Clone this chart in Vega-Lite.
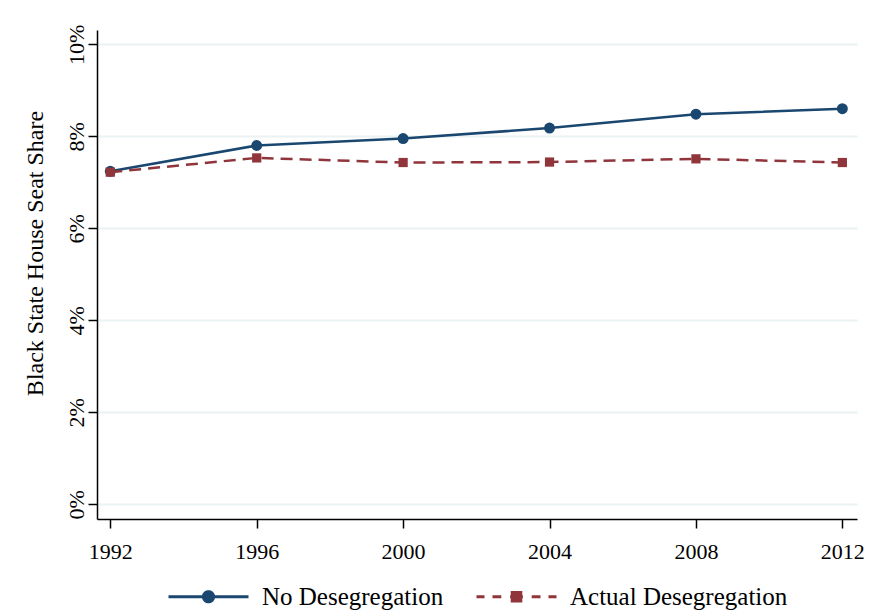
{
  "$schema": "https://vega.github.io/schema/vega-lite/v6.json",
  "width": 760,
  "height": 489,
  "autosize": {"type": "none"},
  "padding": {"left": 97, "top": 30, "right": 19, "bottom": 93},
  "background": "white",
  "config": {
    "view": {"stroke": null},
    "font": "Liberation Serif"
  },
  "data": {
    "values": [
      {"year": 1992, "series": "No Desegregation", "share": 0.0724},
      {"year": 1996, "series": "No Desegregation", "share": 0.0780},
      {"year": 2000, "series": "No Desegregation", "share": 0.0795},
      {"year": 2004, "series": "No Desegregation", "share": 0.0818},
      {"year": 2008, "series": "No Desegregation", "share": 0.0848},
      {"year": 2012, "series": "No Desegregation", "share": 0.0860},
      {"year": 1992, "series": "Actual Desegregation", "share": 0.0722},
      {"year": 1996, "series": "Actual Desegregation", "share": 0.0753},
      {"year": 2000, "series": "Actual Desegregation", "share": 0.0743},
      {"year": 2004, "series": "Actual Desegregation", "share": 0.0744},
      {"year": 2008, "series": "Actual Desegregation", "share": 0.0751},
      {"year": 2012, "series": "Actual Desegregation", "share": 0.0743}
    ]
  },
  "encoding": {
    "x": {
      "field": "year",
      "type": "quantitative",
      "scale": {"domain": [1991.637, 2012.4], "nice": false, "zero": false},
      "axis": {
        "values": [1992, 1996, 2000, 2004, 2008, 2012],
        "format": "d",
        "title": null,
        "grid": false,
        "tickSize": 9,
        "tickWidth": 1.5,
        "tickColor": "black",
        "domainColor": "black",
        "domainWidth": 1.5,
        "labelFont": "Liberation Serif",
        "labelFontSize": 22,
        "labelColor": "black",
        "labelPadding": 13,
        "labelFlush": false
      }
    },
    "y": {
      "field": "share",
      "type": "quantitative",
      "scale": {"domain": [-0.0032, 0.10311], "nice": false, "zero": false},
      "axis": {
        "values": [0, 0.02, 0.04, 0.06, 0.08, 0.1],
        "format": ".0%",
        "grid": true,
        "gridColor": "#eaf2f3",
        "gridWidth": 2,
        "tickSize": 9,
        "tickWidth": 1.5,
        "tickColor": "black",
        "domainColor": "black",
        "domainWidth": 1.5,
        "labelFont": "Liberation Serif",
        "labelFontSize": 22,
        "labelColor": "black",
        "labelAngle": -90,
        "labelAlign": "center",
        "labelBaseline": "middle",
        "labelPadding": 12,
        "labelFlush": false,
        "title": "Black State House Seat Share",
        "titleFont": "Liberation Serif",
        "titleFontSize": 24,
        "titleFontWeight": "normal",
        "titleColor": "black",
        "titleAngle": -90,
        "titleAlign": "center",
        "titleBaseline": "middle",
        "titleX": -62,
        "titleY": 223
      }
    },
    "color": {
      "field": "series",
      "type": "nominal",
      "scale": {
        "domain": ["No Desegregation", "Actual Desegregation"],
        "range": ["#1a476f", "#90353b"]
      },
      "legend": {
        "orient": "none",
        "legendX": 70,
        "legendY": 525,
        "direction": "horizontal",
        "title": null,
        "padding": 0,
        "labelFont": "Liberation Serif",
        "labelFontSize": 25,
        "labelColor": "black",
        "labelLimit": 0,
        "labelOffset": 12,
        "columnPadding": 26,
        "symbolSize": 6400,
        "symbolStrokeWidth": 2.5,
        "encode": {
          "symbols": {
            "update": {
              "shape": {"signal": "datum.value === 'No Desegregation' ? 'M-1,0H1M-0.13,0A0.13,0.13,0,1,1,0.13,0A0.13,0.13,0,1,1,-0.13,0Z' : 'M-1,0H-0.8M-0.6,0H-0.38M-0.16,0H0.16M0.38,0H0.6M0.8,0H1M-0.11,-0.11H0.11V0.11H-0.11Z'"},
              "size": {"value": 6400},
              "fill": {"scale": "color", "field": "value"},
              "stroke": {"scale": "color", "field": "value"},
              "strokeWidth": {"value": 2.8},
              "strokeDash": {"value": [1, 0]},
              "opacity": {"value": 1}
            }
          }
        }
      }
    }
  },
  "layer": [
    {
      "transform": [{"filter": "datum.series === 'No Desegregation'"}],
      "mark": {"type": "line", "strokeWidth": 2.5}
    },
    {
      "transform": [{"filter": "datum.series === 'No Desegregation'"}],
      "mark": {"type": "point", "filled": true, "opacity": 1, "shape": "circle", "size": 120}
    },
    {
      "transform": [{"filter": "datum.series === 'Actual Desegregation'"}],
      "mark": {"type": "line", "strokeWidth": 2.5, "strokeDash": [12, 7]}
    },
    {
      "transform": [{"filter": "datum.series === 'Actual Desegregation'"}],
      "mark": {"type": "point", "filled": true, "opacity": 1, "shape": "square", "size": 85}
    }
  ]
}
